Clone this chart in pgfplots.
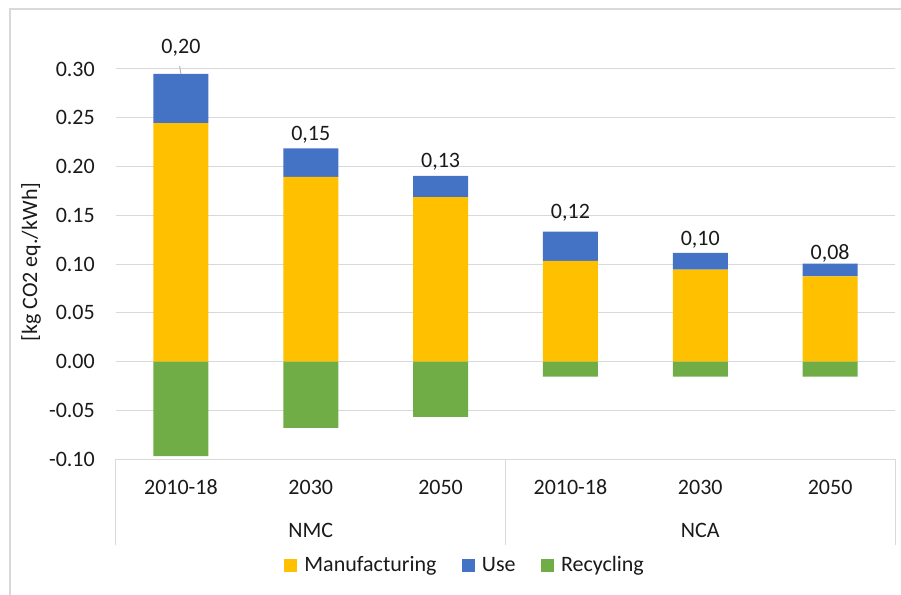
\documentclass[border=0pt]{standalone}
\usepackage{pgfplots}
\pgfplotsset{compat=1.18}
\usepackage{pgfplotstable}
\usepackage{fontspec}
\setmainfont{Carlito}
\definecolor{manuf}{HTML}{FFC000}
\definecolor{use}{HTML}{4472C4}
\definecolor{recyc}{HTML}{70AD47}
\definecolor{gridc}{HTML}{D9D9D9}
\definecolor{txt}{HTML}{1A1A1A}

\pgfplotstableread{
x manuf use
0 0.2445 0.0504
1 0.1894 0.0291
2 0.1685 0.0219
3 0.1031 0.0301
4 0.0942 0.0171
5 0.0873 0.0130
}\stackdata
\pgfplotstableread{
x rec
0 -0.0970
1 -0.0682
2 -0.0568
3 -0.0154
4 -0.0154
5 -0.0154
}\recdata
\pgfplotstableread{
x ly lab
0 0.3156 0,20
1 0.2267 0,15
2 0.1993 0,13
3 0.1464 0,12
4 0.1190 0,10
5 0.1043 0,08
}\labdata

\begin{document}
\begin{tikzpicture}[font=\fontsize{22}{26}\selectfont, text=txt]
\path[use as bounding box] (-116pt,-135pt) rectangle (785pt,459pt);
\draw[gridc, line width=1.5pt] (-106pt,-140pt) -- (-106pt,450pt) -- (790pt,450pt);
\begin{axis}[
  at={(0pt,0pt)}, anchor=south west,
  scale only axis, width=779pt, height=390pt,
  xmin=-0.5, xmax=5.5, ymin=-0.1, ymax=0.3,
  ybar stacked, bar width=55pt,
  axis line style={draw=none},
  major tick length=0pt,
  ymajorgrids, major grid style={gridc, line width=1pt},
  ytick={-0.1,-0.05,0,0.05,0.1,0.15,0.2,0.25,0.3},
  yticklabels={-0.10,-0.05,0.00,0.05,0.10,0.15,0.20,0.25,0.30},
  yticklabel style={anchor=east, inner sep=0pt, xshift=-21pt, font=\fontsize{22}{26}\selectfont},
  xtick={0,1,2,3,4,5},
  xticklabels={2010-18,2030,2050,2010-18,2030,2050},
  xticklabel style={anchor=center, inner sep=0pt, yshift=-28.5pt, font=\fontsize{22}{26}\selectfont},
  ylabel={[kg CO2 eq./kWh]},
  every axis y label/.style={at={(axis description cs:-0.109,0.505)}, rotate=90, anchor=center, font=\fontsize{22}{26}\selectfont},
  clip=false,
  legend columns=-1,
  legend style={at={(axis description cs:0.2157,-0.2718)}, anchor=west, draw=none, fill=none,
    inner sep=0pt, outer sep=0pt, font=\fontsize{22}{26}\selectfont,
    nodes={inner sep=0pt},
    /tikz/every odd column/.append style={column sep=8pt},
    /tikz/every even column/.append style={column sep=25pt}},
]
\addplot[fill=manuf, draw=none, forget plot] table[x=x, y=manuf] {\stackdata};
\addplot[fill=use, draw=none, forget plot] table[x=x, y=use] {\stackdata};
\addlegendimage{legend image code/.code={\fill[manuf] (0pt,-6pt) rectangle (12pt,6pt);}}
\addlegendentry{Manufacturing}
\addlegendimage{legend image code/.code={\fill[use] (0pt,-6pt) rectangle (12pt,6pt);}}
\addlegendentry{Use}
\addlegendimage{legend image code/.code={\fill[recyc] (0pt,-6pt) rectangle (12pt,6pt);}}
\addlegendentry{Recycling}
\draw[gridc, line width=1pt] (axis cs:-0.5,-0.1) -- (axis cs:5.5,-0.1);
\draw[gridc, line width=1pt] (axis cs:-0.5,-0.1) -- ++(0pt,-86pt);
\draw[gridc, line width=1pt] (axis cs:2.5,-0.1) -- ++(0pt,-86pt);
\draw[gridc, line width=1pt] (axis cs:5.5,-0.1) -- ++(0pt,-86pt);
\node[inner sep=0pt, anchor=center, yshift=-71pt] at (axis cs:1,-0.1) {NMC};
\node[inner sep=0pt, anchor=center, yshift=-71pt] at (axis cs:4,-0.1) {NCA};
\end{axis}
\begin{axis}[
  at={(0pt,0pt)}, anchor=south west,
  scale only axis, width=779pt, height=390pt,
  xmin=-0.5, xmax=5.5, ymin=-0.1, ymax=0.3,
  hide axis, clip=false,
]
\addplot[ybar, bar width=55pt, fill=recyc, draw=none] table[x=x, y=rec] {\recdata};
\addplot[draw=none, nodes near coords, point meta=explicit symbolic,
  nodes near coords style={anchor=base, inner sep=0pt, font=\fontsize{22}{26}\selectfont, text=txt}]
  table[x=x, y=ly, meta=lab] {\labdata};
\draw[gray!60, line width=1pt] (axis cs:-0.01,0.303) -- (axis cs:0,0.295);
\end{axis}
\end{tikzpicture}
\end{document}
